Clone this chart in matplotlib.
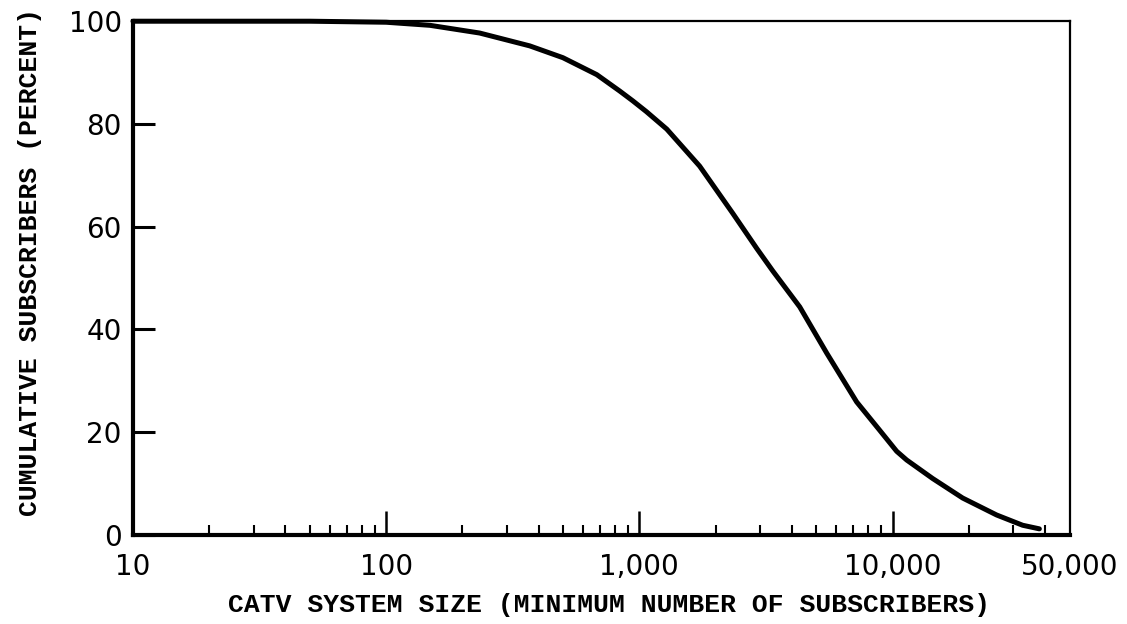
import matplotlib
matplotlib.use("Agg")
import matplotlib.pyplot as plt
from matplotlib.ticker import FixedLocator, NullFormatter

# ── data ──────────────────────────────────────────────────────────────────────
system_size = [10, 50, 100, 149, 234, 369, 499, 679, 837, 942, 1066, 1283,
               1730, 2339, 2906, 3364, 4299, 5496, 7215, 8892, 10380, 11370,
               14400, 18920, 25760, 32650, 38000]
cum_pct     = [100, 100, 99.8, 99.2, 97.7, 95.2, 92.9, 89.6, 86.4, 84.5, 82.4, 79.0,
               71.8, 62.6, 55.8, 51.4, 44.4, 35.4, 25.9, 20.4, 16.3, 14.6,
               11.0, 7.2, 3.9, 1.9, 1.2]

x_major       = [100, 1000, 10000]
x_minor       = [m * d for d in (10, 100, 1000) for m in range(2, 10)] + [20000, 30000, 40000]
x_label_ticks = [10, 100, 1000, 10000, 50000]
x_label_text  = ["10", "100", "1,000", "10,000", "50,000"]
y_ticks       = [0, 20, 40, 60, 80, 100]

fig = plt.figure(figsize=(11.27, 6.24), dpi=100)
ax = fig.add_axes([0.118, 0.1426, 0.831, 0.8234])

ax.plot(system_size, cum_pct, color="black", linewidth=3.6,
        solid_capstyle="round", solid_joinstyle="round", clip_on=False)

ax.set_xscale("log")
ax.set_xlim(10, 50000)
ax.set_ylim(0, 100)

# ── spines: heavy left/bottom, lighter top/right ─────────────────────────────
for side, lw in (("left", 3.0), ("bottom", 3.0), ("top", 1.6), ("right", 1.6)):
    ax.spines[side].set_linewidth(lw)
    ax.spines[side].set_color("black")

# ── ticks ─────────────────────────────────────────────────────────────────────
ax.xaxis.set_major_locator(FixedLocator(x_major))
ax.xaxis.set_minor_locator(FixedLocator(x_minor))
ax.xaxis.set_major_formatter(NullFormatter())
ax.xaxis.set_minor_formatter(NullFormatter())
ax.tick_params(axis="x", which="major", direction="in", length=17, width=1.8)
ax.tick_params(axis="x", which="minor", direction="in", length=7, width=1.5)

# x labels at their own positions (10 and 50,000 carry no tick mark)
for val, txt in zip(x_label_ticks, x_label_text):
    ax.text(val, -3.5, txt, ha="center", va="top", fontsize=20,
            family="DejaVu Sans", clip_on=False)

ax.set_yticks(y_ticks)
ax.tick_params(axis="y", direction="in", length=16, width=2.2, pad=8,
               labelsize=20)
for lab in ax.get_yticklabels():
    lab.set_family("DejaVu Sans")

mono = dict(family="Liberation Mono", fontweight="bold", fontsize=19)
fig.text(0.54, 0.03, "CATV SYSTEM SIZE (MINIMUM NUMBER OF SUBSCRIBERS)",
         ha="center", va="center", **mono)
fig.text(0.027, 0.58, "CUMULATIVE SUBSCRIBERS (PERCENT)",
         ha="center", va="center", rotation=90, **mono)

fig.savefig("out.png", dpi=100)
